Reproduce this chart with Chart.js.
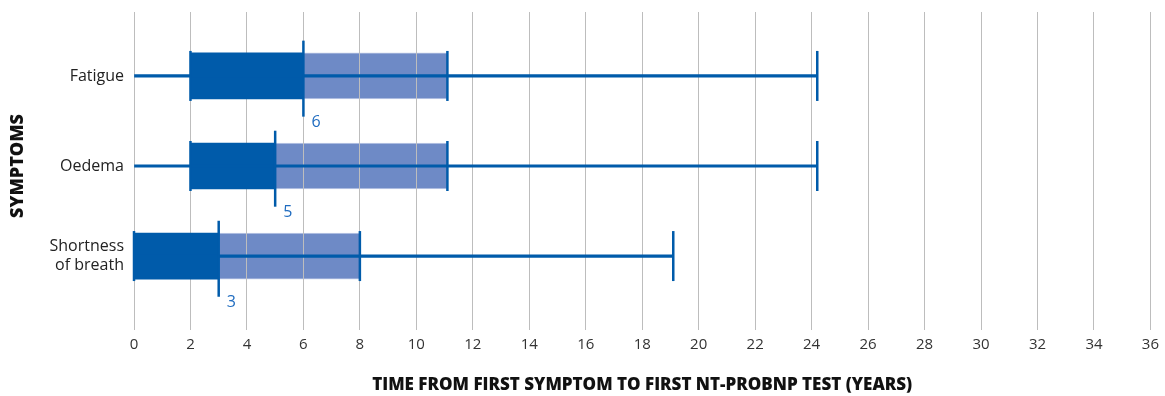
<!DOCTYPE html>
<html>
<head>
<meta charset="utf-8">
<script src="https://cdn.jsdelivr.net/npm/chart.js@4/dist/chart.umd.min.js"></script>
<style>
  html, body { margin: 0; padding: 0; background: #fff; }
  #wrap { width: 1165px; height: 396px; }
</style>
</head>
<body>
<div id="wrap"><canvas id="grafica"></canvas></div>
<script>
// data (years)
const categories = ['Fatigue', 'Oedema', ['Shortness', 'of breath']];
const minVals = [0, 0, 0];
const q1Vals = [2, 2, 0];
const medians = [6, 5, 3];
const q3Vals = [11.1, 11.1, 8];
const maxVals = [24.2, 24.2, 19.1];
const xMin = 0, xMax = 36, xStep = 2;

const darkBlue = '#005baa';
const lightBlue = '#6e8ac6';
const gridGrey = '#bdbdbd';

const rows = categories.map((c, i) => i);

// grid is drawn again right after the light box, so it shows through it
const gridOverLight = {
  id: 'gridOverLight',
  afterDatasetDraw(chart, args) {
    if (args.index === 0) {
      chart.scales.x.drawGrid(chart.chartArea);
    }
  }
};

const medianLabels = {
  id: 'medianLabels',
  afterDatasetsDraw(chart) {
    const ctx = chart.ctx;
    const x = chart.scales.x, y = chart.scales.y;
    ctx.save();
    ctx.fillStyle = '#1f6cc0';
    ctx.font = '16px "Open Sans"';
    ctx.textAlign = 'left';
    ctx.textBaseline = 'middle';
    medians.forEach((m, i) => {
      ctx.fillText(String(m), x.getPixelForValue(m) + 8, y.getPixelForValue(i) + 46);
    });
    ctx.restore();
  }
};

const data = {
  datasets: [
    {
      // median -> Q3
      type: 'bar',
      indexAxis: 'y',
      data: rows.map(i => ({ x: [medians[i], q3Vals[i]], y: i })),
      backgroundColor: lightBlue,
      borderColor: '#c3cde8',
      borderWidth: 1,
      borderSkipped: false,
      barThickness: 46,
      grouped: false,
      order: 6
    },
    {
      // Q1 -> median
      type: 'bar',
      indexAxis: 'y',
      data: rows.map(i => ({ x: [q1Vals[i], medians[i]], y: i })),
      backgroundColor: darkBlue,
      borderWidth: 0,
      barThickness: 46,
      grouped: false,
      order: 5
    },
    {
      // whisker min -> max
      type: 'bar',
      indexAxis: 'y',
      data: rows.map(i => ({ x: [minVals[i], maxVals[i]], y: i })),
      backgroundColor: darkBlue,
      borderWidth: 0,
      barThickness: 2.5,
      grouped: false,
      order: 4
    },
    {
      // caps at Q1, Q3 and max
      type: 'scatter',
      data: rows.flatMap(i => [
        { x: q1Vals[i], y: i },
        { x: q3Vals[i], y: i },
        { x: maxVals[i], y: i }
      ]),
      pointStyle: 'line',
      rotation: 90,
      radius: 25,
      hoverRadius: 25,
      borderColor: darkBlue,
      borderWidth: 2.5,
      clip: false,
      order: 3
    },
    {
      // median marker
      type: 'scatter',
      data: rows.map(i => ({ x: medians[i], y: i + 0.03 })),
      pointStyle: 'line',
      rotation: 90,
      radius: 38,
      hoverRadius: 38,
      borderColor: darkBlue,
      borderWidth: 2.5,
      clip: false,
      order: 2
    }
  ]
};

const config = {
  type: 'bar',
  data: data,
  options: {
    responsive: true,
    maintainAspectRatio: false,
    animation: false,
    layout: { autoPadding: false, padding: { top: 12, right: 13, bottom: 0, left: 0 } },
    plugins: {
      legend: { display: false },
      tooltip: { enabled: false }
    },
    scales: {
      x: {
        type: 'linear',
        position: 'bottom',
        offset: false,
        min: xMin,
        max: xMax,
        ticks: {
          stepSize: xStep,
          padding: 6,
          color: '#333',
          font: { family: 'Open Sans', size: 15 }
        },
        grid: { color: gridGrey, lineWidth: 1, tickLength: 10, offset: false },
        border: { display: false },
        title: {
          display: true,
          text: 'TIME FROM FIRST SYMPTOM TO FIRST NT-PROBNP TEST (YEARS)',
          color: '#111',
          font: { family: 'Open Sans', size: 17, weight: '800' },
          padding: { top: 0, bottom: 1 }
        },
        afterFit(scale) { scale.height = 76; }
      },
      y: {
        type: 'linear',
        reverse: true,
        offset: false,
        min: -0.71,
        max: 2.71,
        afterBuildTicks(scale) {
          scale.ticks = rows.map(v => ({ value: v }));
        },
        ticks: {
          padding: 10,
          color: '#222',
          font: { family: 'Open Sans', size: 16 },
          callback: v => categories[v]
        },
        grid: { display: false, drawTicks: false, offset: false },
        border: { display: false },
        title: {
          display: true,
          text: 'SYMPTOMS',
          color: '#111',
          font: { family: 'Open Sans', size: 18, weight: '800' },
          padding: { top: 7, bottom: 0 }
        },
        afterFit(scale) {
          scale.width = 134;
          scale.paddingTop = 0;
          scale.paddingBottom = 0;
        }
      }
    }
  },
  plugins: [gridOverLight, medianLabels]
};

new Chart(document.querySelector('#grafica'), config);
</script>
</body>
</html>
